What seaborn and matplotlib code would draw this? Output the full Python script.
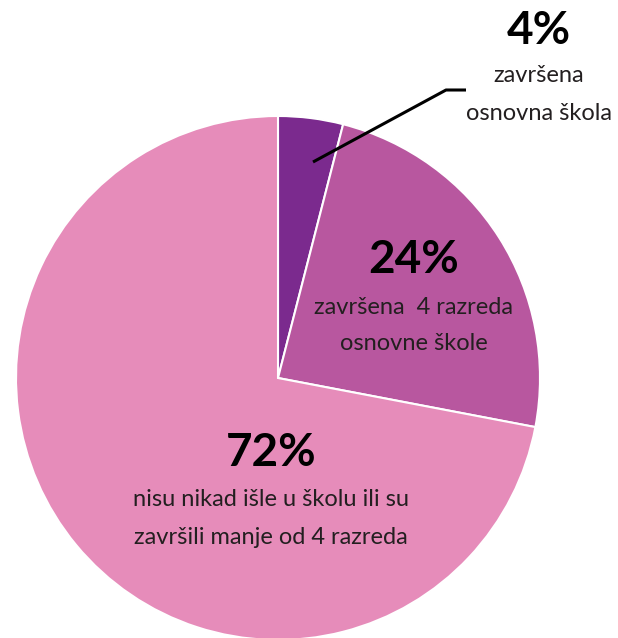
import matplotlib.pyplot as plt
import seaborn as sns
import numpy as np

sns.set_style('white')
plt.rcParams['font.family'] = ['Lato', 'DejaVu Sans']

# data
categories = ['završena\nosnovna škola',
              'završena  4 razreda\nosnovne škole',
              'nisu nikad išle u školu ili su\nzavršili manje od 4 razreda']
shares = [4, 24, 72]
colors = ['#7b2a8e', '#b8579f', '#e68cba']

W, H = 618, 638
fig = plt.figure(figsize=(W / 100, H / 100), dpi=100)
ax = fig.add_axes([0, 0, 1, 1])
ax.set_xlim(0, W)
ax.set_ylim(0, H)
ax.set_aspect('equal')
ax.axis('off')

cx, cy, r = 278, H - 378, 262
ax.pie(shares, colors=colors, startangle=90, counterclock=False,
       center=(cx, cy), radius=r,
       wedgeprops=dict(edgecolor='white', linewidth=1.5))
ax.set_xlim(0, W)
ax.set_ylim(0, H)

# label positions in pixel coords (x center, y of percent, y of first text line)
label_pos = [(539, 31, 76), (414, 260, 307), (271, 453, 500)]
line_gap = 37

for val, cat, (x, yp, yt) in zip(shares, categories, label_pos):
    ax.text(x, H - yp, f'{val}%', ha='center', va='center',
            fontsize=33, fontweight='bold', color='black')
    for i, line in enumerate(cat.split('\n')):
        ax.text(x, H - (yt + i * line_gap), line, ha='center', va='center',
                fontsize=17, color='#231f20')

# leader line for the small slice
ax.plot([313, 446, 466], [H - 162, H - 90, H - 90], color='black',
        linewidth=2.2, solid_capstyle='butt')

plt.savefig('out.png', dpi=100)
